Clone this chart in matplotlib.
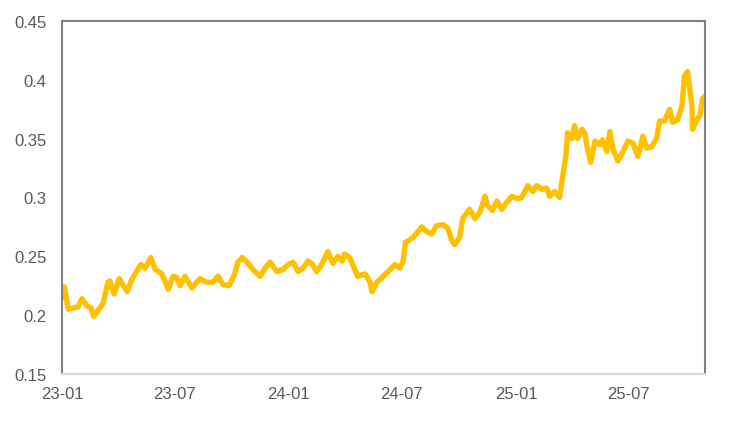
import numpy as np
import pandas as pd
import matplotlib
matplotlib.use('Agg')
import matplotlib.pyplot as plt
import matplotlib.dates as mdates
from matplotlib.ticker import FuncFormatter

# values (roughly weekly)
dates = [
    '2023-01-03', '2023-01-05', '2023-01-11', '2023-01-19', '2023-01-27', '2023-02-02',
    '2023-02-10', '2023-02-17', '2023-02-21', '2023-02-28', '2023-03-08', '2023-03-16',
    '2023-03-19', '2023-03-26', '2023-04-03', '2023-04-09', '2023-04-16', '2023-04-24',
    '2023-05-02', '2023-05-08', '2023-05-15', '2023-05-24', '2023-05-31', '2023-06-11',
    '2023-06-21', '2023-06-29', '2023-07-05', '2023-07-10', '2023-07-18', '2023-07-29',
    '2023-08-11', '2023-08-22', '2023-09-01', '2023-09-09', '2023-09-17', '2023-09-27',
    '2023-10-06', '2023-10-11', '2023-10-18', '2023-10-26', '2023-11-04', '2023-11-16',
    '2023-11-24', '2023-12-02', '2023-12-13', '2023-12-23', '2023-12-31', '2024-01-08',
    '2024-01-16', '2024-01-24', '2024-02-01', '2024-02-07', '2024-02-15', '2024-02-23',
    '2024-03-04', '2024-03-12', '2024-03-20', '2024-03-27', '2024-03-31', '2024-04-08',
    '2024-04-13', '2024-04-21', '2024-05-03', '2024-05-11', '2024-05-14', '2024-05-22',
    '2024-05-30', '2024-06-09', '2024-06-20', '2024-06-28', '2024-07-03', '2024-07-07',
    '2024-07-11', '2024-07-19', '2024-07-27', '2024-08-02', '2024-08-10', '2024-08-18',
    '2024-08-26', '2024-09-05', '2024-09-13', '2024-09-20', '2024-09-24', '2024-10-02',
    '2024-10-07', '2024-10-18', '2024-10-27', '2024-11-04', '2024-11-12', '2024-11-16',
    '2024-11-24', '2024-12-01', '2024-12-09', '2024-12-17', '2024-12-25', '2025-01-04',
    '2025-01-10', '2025-01-20', '2025-01-28', '2025-02-03', '2025-02-12', '2025-02-19',
    '2025-02-24', '2025-03-04', '2025-03-12', '2025-03-17', '2025-03-22', '2025-03-25',
    '2025-04-01', '2025-04-05', '2025-04-10', '2025-04-17', '2025-04-22', '2025-04-25',
    '2025-05-01', '2025-05-08', '2025-05-16', '2025-05-20', '2025-05-27', '2025-06-01',
    '2025-06-06', '2025-06-14', '2025-06-22', '2025-06-30', '2025-07-08', '2025-07-16',
    '2025-07-24', '2025-07-30', '2025-08-07', '2025-08-15', '2025-08-20', '2025-08-28',
    '2025-09-05', '2025-09-10', '2025-09-18', '2025-09-25', '2025-09-29', '2025-10-04',
    '2025-10-11', '2025-10-12', '2025-10-19', '2025-10-24', '2025-10-28', '2025-11-01',
]
values = [
    0.215, 0.224, 0.205, 0.206, 0.207, 0.214,
    0.208, 0.206, 0.199, 0.204, 0.210, 0.228,
    0.229, 0.218, 0.231, 0.226, 0.220, 0.231,
    0.238, 0.243, 0.240, 0.249, 0.239, 0.235,
    0.222, 0.233, 0.232, 0.225, 0.233, 0.223,
    0.231, 0.228, 0.228, 0.233, 0.226, 0.225,
    0.235, 0.245, 0.249, 0.245, 0.239, 0.233,
    0.240, 0.245, 0.237, 0.239, 0.243, 0.245,
    0.237, 0.240, 0.246, 0.244, 0.237, 0.243,
    0.254, 0.244, 0.250, 0.246, 0.252, 0.249,
    0.243, 0.233, 0.235, 0.228, 0.220, 0.228,
    0.232, 0.237, 0.243, 0.240, 0.246, 0.262,
    0.263, 0.266, 0.271, 0.275, 0.271, 0.269,
    0.276, 0.277, 0.274, 0.263, 0.260, 0.266,
    0.282, 0.290, 0.282, 0.288, 0.301, 0.293,
    0.289, 0.297, 0.290, 0.296, 0.301, 0.299,
    0.300, 0.310, 0.305, 0.310, 0.307, 0.308,
    0.301, 0.305, 0.300, 0.318, 0.335, 0.355,
    0.350, 0.361, 0.350, 0.358, 0.354, 0.344,
    0.330, 0.348, 0.345, 0.349, 0.339, 0.356,
    0.341, 0.331, 0.339, 0.348, 0.346, 0.335,
    0.352, 0.342, 0.343, 0.350, 0.365, 0.365,
    0.375, 0.364, 0.366, 0.378, 0.403, 0.407,
    0.378, 0.358, 0.366, 0.370, 0.384, 0.386,
]
x_ticks = ['2023-01-01', '2023-07-01', '2024-01-01', '2024-07-01', '2025-01-01', '2025-07-01']
y_ticks = [0.15, 0.2, 0.25, 0.3, 0.35, 0.4, 0.45]

plt.rcParams['font.family'] = ['Liberation Sans', 'DejaVu Sans']

fig = plt.figure(figsize=(7.31, 4.27), dpi=100)
ax = fig.add_axes([0.0848, 0.1218, 0.8796, 0.8267])

ax.plot(pd.to_datetime(dates), values, color='#FFC000', lw=3.9, solid_joinstyle='round')

ax.set_ylim(0.15, 0.45)
ax.set_yticks(y_ticks)
ax.yaxis.set_major_formatter(FuncFormatter(lambda v, p: f'{v:g}'))
ax.set_xlim(pd.Timestamp('2023-01-01'), pd.Timestamp(dates[-1]))
ax.set_xticks(pd.to_datetime(x_ticks))
ax.xaxis.set_major_formatter(mdates.DateFormatter('%y-%m'))

ax.tick_params(length=0, labelsize=12, labelcolor='#595959')
ax.tick_params(axis='y', pad=11)
ax.tick_params(axis='x', pad=9)

for s in ['left', 'top', 'right']:
    ax.spines[s].set_color('#808080')
    ax.spines[s].set_linewidth(1.5)
ax.spines['bottom'].set_color('#d9d9d9')
ax.spines['bottom'].set_linewidth(1.5)

fig.savefig('out.png', dpi=100)
